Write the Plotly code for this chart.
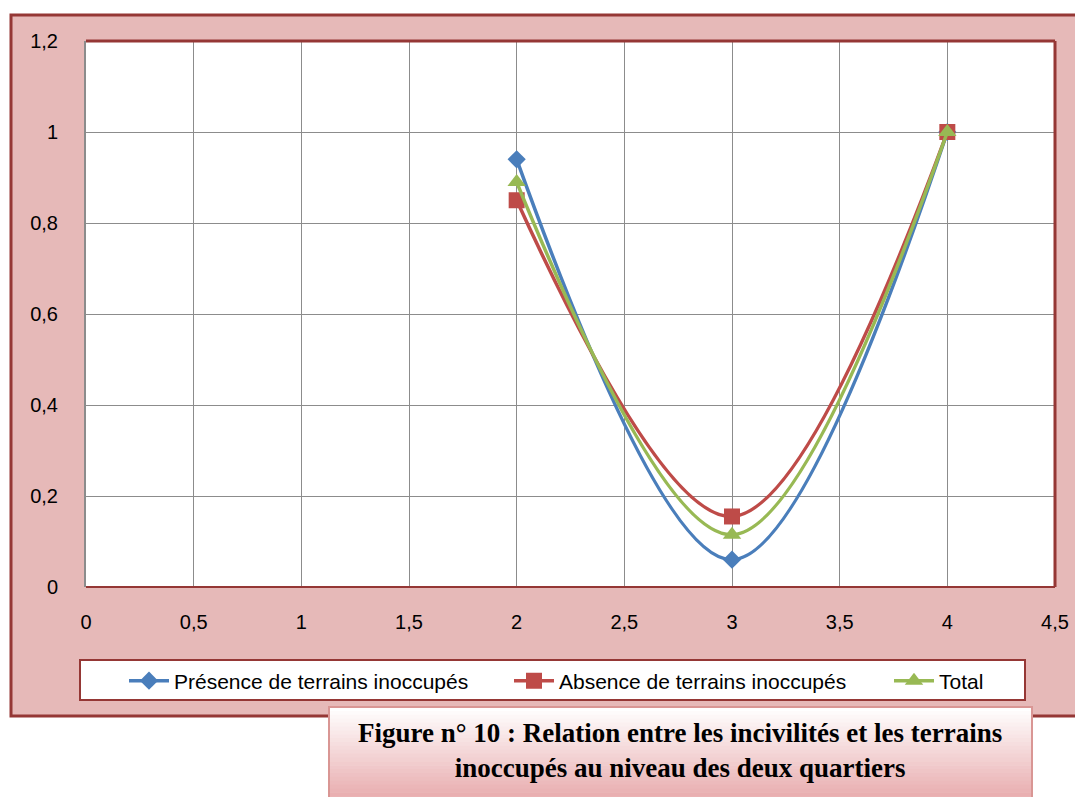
import plotly.graph_objects as go

# data
x_vals = [2, 3, 4]
presence = [0.94, 0.06, 1.0]
absence = [0.85, 0.155, 1.0]
total = [0.89, 0.115, 1.0]

series_names = ['Présence de terrains inoccupés', 'Absence de terrains inoccupés', 'Total']
caption = 'Figure n° 10 : Relation entre les incivilités et les terrains<br>inoccupés au niveau des deux quartiers'

# the page body has an 8px margin, so draw in figure coords = reference coords - 8
OFF = 8
W, H = 1083 - OFF, 797 - OFF
L, R, T, B = 86 - OFF, 1055 - OFF, 41 - OFF, 587 - OFF  # plot area


def px(x):
    return (x - OFF - L) / (R - L)


def py(y):
    return (B - (y - OFF)) / (B - T)


DARK_RED = '#953735'
PINK = '#E6B9B8'
GRID = '#8C8C8C'

fig = go.Figure()

fig.add_trace(go.Scatter(
    x=x_vals, y=presence, mode='lines+markers', name=series_names[0], legend='legend',
    line=dict(color='#4A7EBB', width=3.5, shape='spline', smoothing=1),
    marker=dict(symbol='diamond', size=14, color='#4A7EBB')
))
fig.add_trace(go.Scatter(
    x=x_vals, y=absence, mode='lines+markers', name=series_names[1], legend='legend2',
    line=dict(color='#BE4B48', width=3.5, shape='spline', smoothing=1),
    marker=dict(symbol='square', size=16, color='#BE4B48')
))
fig.add_trace(go.Scatter(
    x=x_vals, y=total, mode='lines+markers', name=series_names[2], legend='legend3',
    line=dict(color='#98B954', width=3.5, shape='spline', smoothing=1),
    marker=dict(symbol='triangle-up', size=16, color='#98B954')
))

shapes = []
# outer pink frame
shapes.append(dict(type='rect', xref='paper', yref='paper', layer='below',
                   x0=px(11), x1=px(1100), y0=py(716), y1=py(15),
                   fillcolor=PINK, line=dict(color=DARK_RED, width=3)))
# white plot area
shapes.append(dict(type='rect', xref='paper', yref='paper', layer='below',
                   x0=0, x1=1, y0=0, y1=1, fillcolor='white', line=dict(width=0)))
# plot area border (top, right, bottom)
shapes.append(dict(type='line', xref='paper', yref='paper', x0=0, x1=1, y0=1, y1=1,
                   line=dict(color=DARK_RED, width=3)))
shapes.append(dict(type='line', xref='paper', yref='paper', x0=1, x1=1, y0=0, y1=1,
                   line=dict(color=DARK_RED, width=3)))
shapes.append(dict(type='line', xref='paper', yref='paper', x0=0, x1=1, y0=0, y1=0,
                   line=dict(color=DARK_RED, width=2)))
# legend box
shapes.append(dict(type='rect', xref='paper', yref='paper',
                   x0=px(80), x1=px(1025), y0=py(700), y1=py(660),
                   fillcolor='white', line=dict(color=DARK_RED, width=2)))
# caption box with a vertical gradient, white -> pink
n = 24
top, bot = 707, 800
for i in range(n):
    t = i / (n - 1)
    r = int(255 + (232 - 255) * t)
    g = int(255 + (172 - 255) * t)
    b = int(255 + (174 - 255) * t)
    y0 = top + (bot - top) * i / n
    y1 = top + (bot - top) * (i + 1) / n
    shapes.append(dict(type='rect', xref='paper', yref='paper',
                       x0=px(329), x1=px(1032), y0=py(y1 + 0.5), y1=py(y0),
                       fillcolor=f'rgb({r},{g},{b})', line=dict(width=0)))
shapes.append(dict(type='rect', xref='paper', yref='paper',
                   x0=px(329), x1=px(1032), y0=py(805), y1=py(707),
                   fillcolor='rgba(0,0,0,0)', line=dict(color='#D99694', width=2)))

legend_font = dict(family='Liberation Sans, Arial, sans-serif', size=21, color='black')


def legend_at(xpix):
    return dict(orientation='h', x=px(xpix), xanchor='left', y=py(681), yanchor='middle',
                bgcolor='rgba(0,0,0,0)', borderwidth=0, font=legend_font, itemwidth=40)


fig.update_layout(
    width=W, height=H,
    margin=dict(l=L, r=W - R, t=T, b=H - B),
    paper_bgcolor='white',
    plot_bgcolor='white',
    separators=', ',
    font=dict(family='Liberation Sans, Arial, sans-serif', size=20, color='black'),
    shapes=shapes,
    showlegend=True,
    legend=legend_at(124),
    legend2=legend_at(509),
    legend3=legend_at(889),
    annotations=[dict(
        text='<b>' + caption + '</b>', xref='paper', yref='paper',
        x=px(680), y=py(750), xanchor='center', yanchor='middle', showarrow=False,
        font=dict(family='Liberation Serif, Times New Roman, serif', size=27, color='black'),
        align='center'
    )],
    hovermode=False,
)

fig.update_xaxes(
    range=[0, 4.5], dtick=0.5, tick0=0,
    showgrid=True, gridcolor=GRID, gridwidth=1,
    zeroline=False, showline=False,
    ticks='', ticklabelstandoff=21,
    tickfont=dict(size=20),
)
fig.update_yaxes(
    range=[0, 1.2], dtick=0.2, tick0=0,
    showgrid=True, gridcolor=GRID, gridwidth=1,
    zeroline=False, showline=True, linecolor=GRID, linewidth=2,
    ticks='', ticklabelstandoff=22,
    tickfont=dict(size=20),
)

fig.write_html('out.html')
